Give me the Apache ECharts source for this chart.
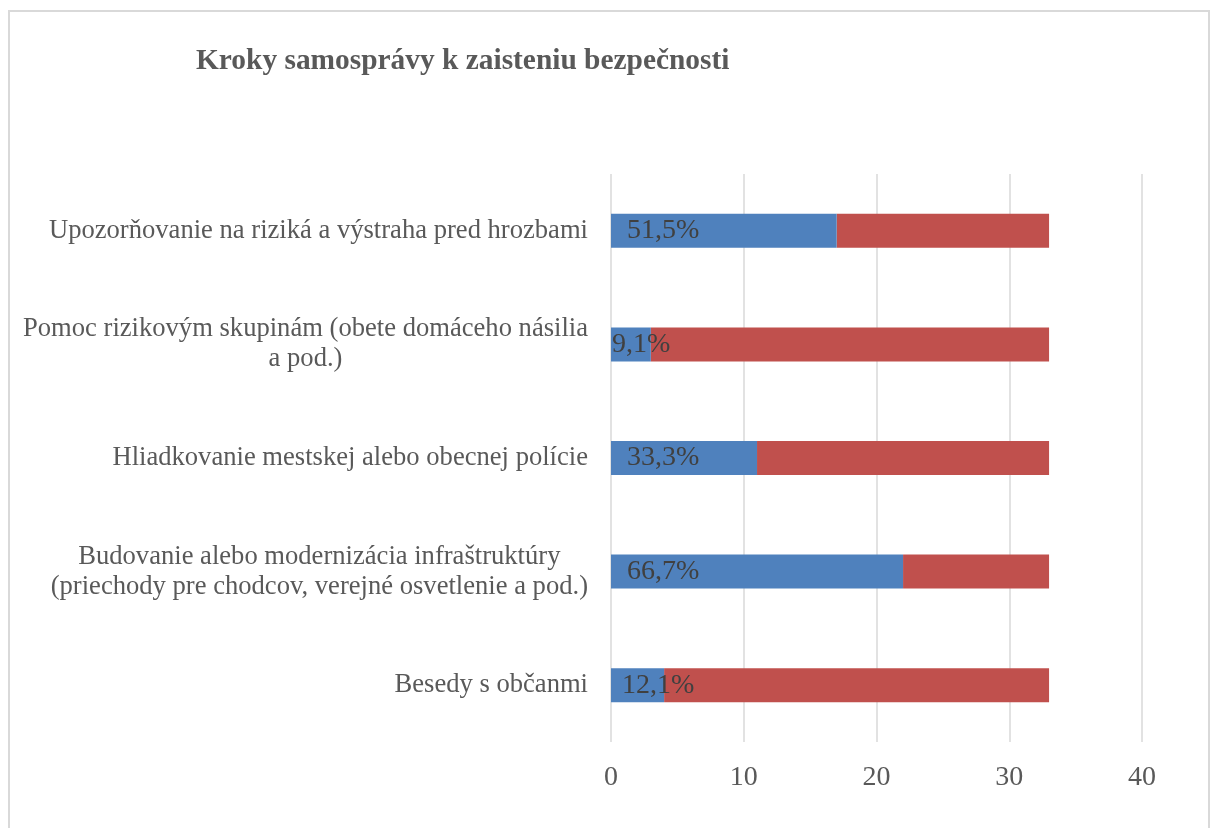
<!DOCTYPE html>
<html lang="sk">
<head>
    <meta charset="UTF-8">
    <title>Kroky samosprávy k zaisteniu bezpečnosti</title>
    <script src="https://cdn.jsdelivr.net/npm/echarts@6/dist/echarts.min.js"></script>
    <style>
        html, body { margin: 0; padding: 0; background: #fff; }
        #frame {
            position: absolute;
            left: 8px; top: 10px;
            width: 1202px; height: 830px;
            border: 2px solid #d9d9d9;
            box-sizing: border-box;
        }
        #chart { position: absolute; left: 0; top: 0; width: 1212px; height: 828px; }
    </style>
</head>
<body>
    <div id="frame"></div>
    <div id="chart"></div>
    <script>
        // categories from top to bottom
        var categories = [
            'Upozorňovanie na riziká a výstraha pred hrozbami',
            'Pomoc rizikovým skupinám (obete domáceho násilia\na pod.)',
            'Hliadkovanie mestskej alebo obecnej polície',
            'Budovanie alebo modernizácia infraštruktúry\n(priechody pre chodcov, verejné osvetlenie a pod.)',
            'Besedy s občanmi'
        ];
        var yesValues = [17, 3, 11, 22, 4];
        var noValues = [16, 30, 22, 11, 29];
        var labelOffsets = [16, 1, 16, 16, 11];
        var xTicks = [0, 10, 20, 30, 40];

        function pct(i) {
            var total = yesValues[i] + noValues[i];
            return (yesValues[i] / total * 100).toFixed(1).replace('.', ',') + '%';
        }

        var chart = echarts.init(document.getElementById('chart'));

        var option = {
            animation: false,
            title: {
                text: 'Kroky samosprávy k zaisteniu bezpečnosti',
                left: 191,
                top: 42,
                textStyle: {
                    fontFamily: 'Liberation Serif',
                    fontWeight: 'bold',
                    fontSize: 29.4,
                    color: '#595959'
                }
            },
            grid: {
                left: 611,
                top: 174,
                right: 70,
                bottom: 86
            },
            xAxis: {
                type: 'value',
                min: xTicks[0],
                max: xTicks[xTicks.length - 1],
                interval: 10,
                axisLine: { show: false },
                axisTick: { show: false },
                splitLine: { lineStyle: { color: '#d9d9d9', width: 1.5 } },
                axisLabel: {
                    margin: 22,
                    fontFamily: 'Liberation Serif',
                    fontSize: 28,
                    color: '#595959'
                }
            },
            yAxis: {
                type: 'category',
                inverse: true,
                data: categories,
                axisLine: { show: false },
                axisTick: { show: false },
                axisLabel: {
                    margin: 23,
                    fontFamily: 'Liberation Serif',
                    fontSize: 26.6,
                    color: '#595959',
                    lineHeight: 30,
                    formatter: function (v) {
                        return v.split('\n').map(function (s) { return '{c|' + s + '}'; }).join('\n');
                    },
                    rich: {
                        c: {
                            align: 'center',
                            fontFamily: 'Liberation Serif',
                            fontSize: 26.6,
                            color: '#595959',
                            lineHeight: 30
                        }
                    }
                }
            },
            series: [
                {
                    type: 'bar',
                    stack: 'total',
                    barWidth: 34,
                    itemStyle: { color: '#4f81bd' },
                    data: yesValues.map(function (v, i) {
                        return {
                            value: v,
                            label: {
                                show: true,
                                position: 'insideLeft',
                                distance: labelOffsets[i],
                                formatter: function () { return pct(i); },
                                fontFamily: 'Liberation Serif',
                                fontSize: 28,
                                color: '#404040'
                            }
                        };
                    }),
                    z: 3
                },
                {
                    type: 'bar',
                    stack: 'total',
                    barWidth: 34,
                    itemStyle: { color: '#c0504d' },
                    data: noValues,
                    z: 2
                }
            ]
        };

        chart.setOption(option);
    </script>
</body>
</html>
